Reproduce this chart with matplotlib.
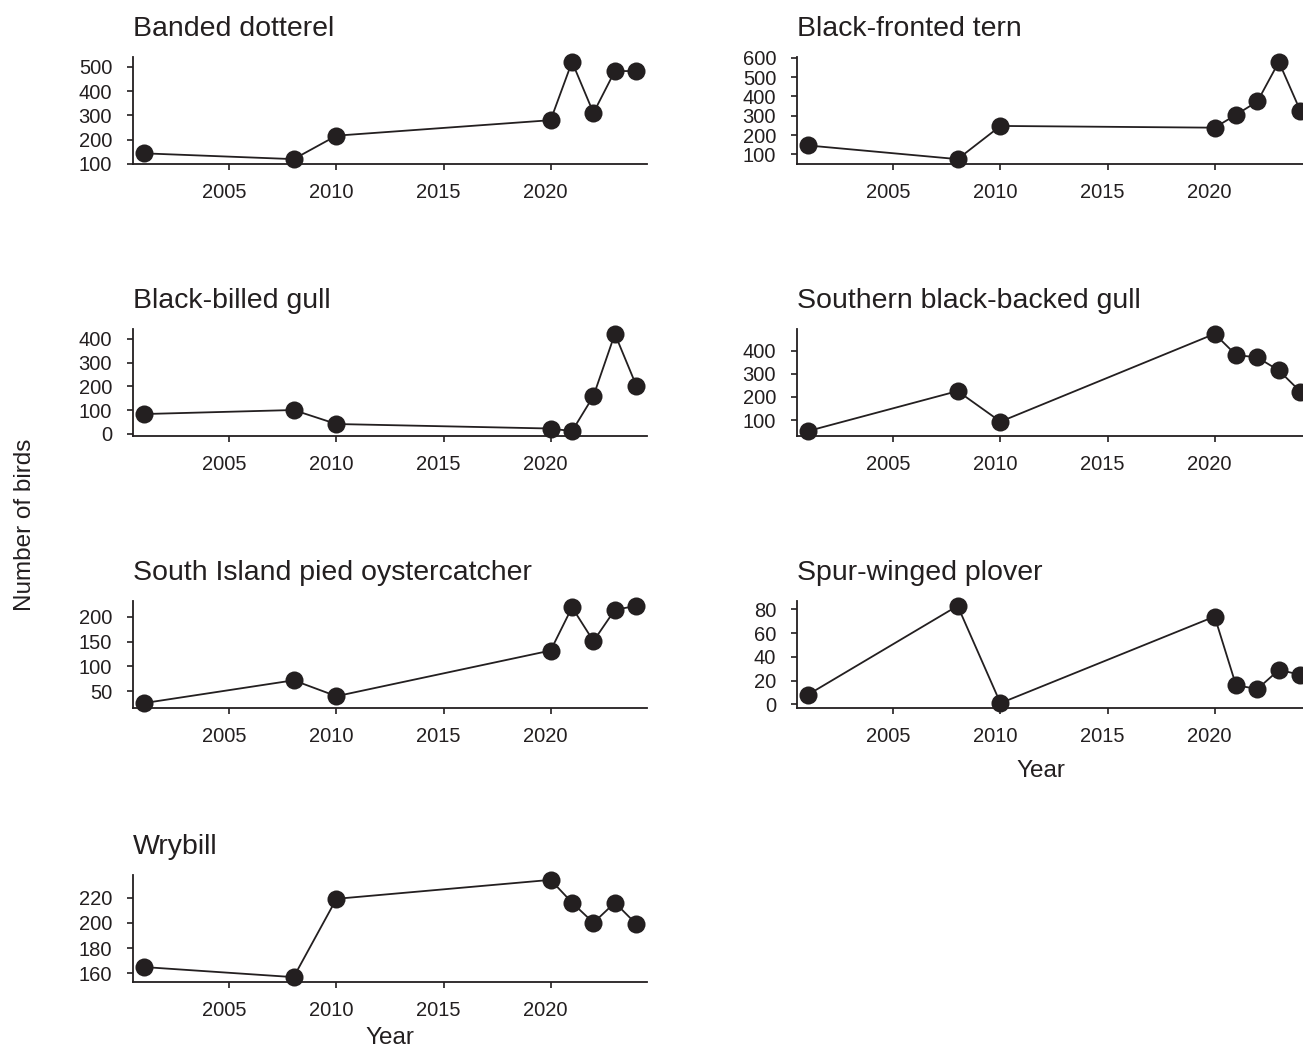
import numpy as np
import matplotlib
matplotlib.use("Agg")
import matplotlib.pyplot as plt
from matplotlib.ticker import MultipleLocator
from matplotlib.transforms import ScaledTranslation

plt.rcParams["font.family"] = ["Liberation Sans", "DejaVu Sans"]

ink = "#231f20"

# survey years and counts per species
years = [2001, 2008, 2010, 2020, 2021, 2022, 2023, 2024]

banded_dotterel = [143, 119, 216, 280, 521, 310, 483, 483]
black_fronted_tern = [146, 75, 247, 238, 305, 374, 579, 326]
black_billed_gull = [83, 100, 41, 22, 11, 159, 421, 203]
southern_black_backed_gull = [52, 225, 93, 472, 381, 370, 314, 223]
pied_oystercatcher = [26, 72, 40, 132, 219, 151, 214, 222]
spur_winged_plover = [8, 83, 1, 74, 16, 13, 29, 25]
wrybill = [165, 157, 219, 234, 216, 200, 216, 199]

species = ["Banded dotterel", "Black-fronted tern", "Black-billed gull",
           "Southern black-backed gull", "South Island pied oystercatcher",
           "Spur-winged plover", "Wrybill"]
counts = [banded_dotterel, black_fronted_tern, black_billed_gull,
          southern_black_backed_gull, pied_oystercatcher, spur_winged_plover,
          wrybill]
y_steps = [100, 100, 100, 100, 50, 20, 20]
year_ticks = [2005, 2010, 2015, 2020]


def species_panel(ax, name, n, step):
    ax.plot(years, n, color=ink, lw=1.3, marker="o", ms=13,
            markeredgewidth=0, clip_on=False)
    ax.set_xlim(2000.5, 2024.5)
    ax.margins(y=0.05)
    ax.set_xticks(year_ticks)
    ax.yaxis.set_major_locator(MultipleLocator(step))
    ax.set_title(name, loc="left", fontsize=20.5, color=ink, pad=15)
    for side in ["top", "right"]:
        ax.spines[side].set_visible(False)
    for side in ["left", "bottom"]:
        ax.spines[side].set_linewidth(1.3)
        ax.spines[side].set_color(ink)
    ax.tick_params(axis="both", colors=ink, labelsize=14.5, width=1.2,
                   length=4)
    ax.tick_params(axis="x", pad=10)
    ax.tick_params(axis="y", pad=11)


W, H = 1303, 1049
fig = plt.figure(figsize=(W / 100, H / 100), dpi=100)

lefts = [133, 797]
tops = [57, 329, 601, 875]
width, height = 514, 107

axes = []
for i, name in enumerate(species):
    row, col = divmod(i, 2)
    x0 = lefts[col] / W
    y0 = 1 - (tops[row] + height) / H
    ax = fig.add_axes([x0, y0, width / W, height / H])
    species_panel(ax, name, counts[i], y_steps[i])
    axes.append(ax)

axes[5].set_xlabel("Year", fontsize=17.5, color=ink, labelpad=10)
axes[5].xaxis.label.set_x(0.475)
axes[6].set_xlabel("Year", fontsize=17.5, color=ink, labelpad=5)

fig.text(25 / W, 0.5, "Number of birds", rotation=90, fontsize=17.5,
         color=ink, ha="center", va="center")

# year labels sit a little left of their ticks
shift = ScaledTranslation(-5 / 100, 0, fig.dpi_scale_trans)
for ax in axes:
    for tick in ax.xaxis.get_major_ticks():
        tick.label1.set_transform(tick.label1.get_transform() + shift)

fig.savefig("out.png", dpi=100)
